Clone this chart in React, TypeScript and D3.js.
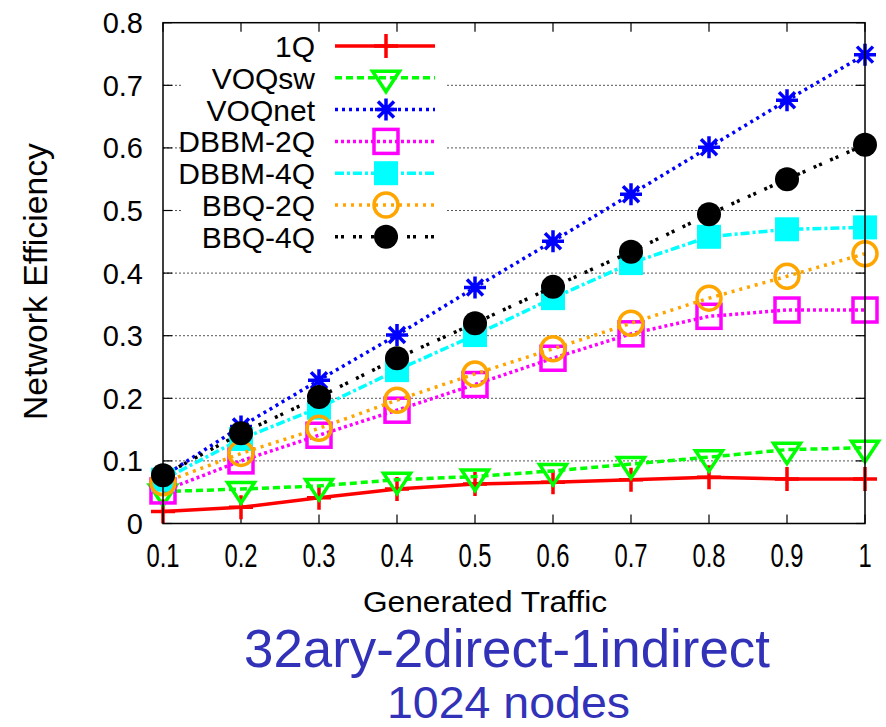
import React, { useEffect, useRef } from 'react';
import * as d3 from 'd3';

// generated traffic (x) and network efficiency per series (y)
const traffic = [0.1, 0.2, 0.3, 0.4, 0.5, 0.6, 0.7, 0.8, 0.9, 1];
const q1 = [0.019, 0.026, 0.041, 0.055, 0.063, 0.066, 0.070, 0.074, 0.071, 0.071];
const voqsw = [0.051, 0.055, 0.060, 0.070, 0.075, 0.084, 0.095, 0.106, 0.118, 0.121];
const voqnet = [0.075, 0.155, 0.229, 0.301, 0.377, 0.451, 0.526, 0.601, 0.676, 0.749];
const dbbm2q = [0.052, 0.100, 0.141, 0.181, 0.222, 0.264, 0.303, 0.331, 0.341, 0.341];
const dbbm4q = [0.070, 0.135, 0.185, 0.245, 0.301, 0.360, 0.416, 0.458, 0.470, 0.473];
const bbq2q = [0.065, 0.112, 0.152, 0.197, 0.239, 0.279, 0.320, 0.360, 0.395, 0.431];
const bbq4q = [0.077, 0.144, 0.202, 0.264, 0.320, 0.378, 0.434, 0.494, 0.550, 0.605];

const seriesNames = ['1Q', 'VOQsw', 'VOQnet', 'DBBM-2Q', 'DBBM-4Q', 'BBQ-2Q', 'BBQ-4Q'];
const xTickLabels = ['0.1', '0.2', '0.3', '0.4', '0.5', '0.6', '0.7', '0.8', '0.9', '1'];
const yTicks = [0, 0.1, 0.2, 0.3, 0.4, 0.5, 0.6, 0.7, 0.8];

const FONT = '"Liberation Sans", Arial, sans-serif';

export default function App() {
  const ref = useRef<SVGSVGElement>(null);

  useEffect(() => {
    const svg = d3.select(ref.current);
    svg.selectAll('*').remove();

    const left = 163, right = 865, top = 22.7, bottom = 523.5;
    const x = d3.scaleLinear().domain([0.1, 1]).range([left, right]);
    const y = d3.scaleLinear().domain([0, 0.8]).range([bottom, top]);

    const styles = [
      { values: q1, color: '#ff0000', dash: null, width: 3.5, marker: 'plus' },
      { values: voqsw, color: '#00ff00', dash: '7,4', width: 3.5, marker: 'tri' },
      { values: voqnet, color: '#0000ff', dash: '3,4', width: 3.5, marker: 'star' },
      { values: dbbm2q, color: '#ff00ff', dash: '3,3', width: 3.5, marker: 'square' },
      { values: dbbm4q, color: '#00ffff', dash: '9,3,3,3', width: 3.5, marker: 'fsquare' },
      { values: bbq2q, color: '#ffa500', dash: '3,5', width: 3.5, marker: 'circle' },
      { values: bbq4q, color: '#000000', dash: '3,3,3,9', width: 3.5, marker: 'fcircle' },
    ];

    function drawMarker(g: any, kind: string, cx: number, cy: number, color: string) {
      if (kind === 'plus') {
        g.append('path').attr('d', `M${cx - 12},${cy}H${cx + 12}M${cx},${cy - 12}V${cy + 12}`)
          .attr('stroke', color).attr('stroke-width', 3.5).attr('fill', 'none');
      } else if (kind === 'tri') {
        g.append('path').attr('d', `M${cx - 13.5},${cy - 6.5}L${cx + 13.5},${cy - 6.5}L${cx},${cy + 14}Z`)
          .attr('stroke', color).attr('stroke-width', 3.5).attr('fill', 'none');
      } else if (kind === 'star') {
        const r = 11, d = 8;
        g.append('path').attr('d',
          `M${cx - r},${cy}H${cx + r}M${cx},${cy - r}V${cy + r}M${cx - d},${cy - d}L${cx + d},${cy + d}M${cx - d},${cy + d}L${cx + d},${cy - d}`)
          .attr('stroke', color).attr('stroke-width', 3.5).attr('fill', 'none');
      } else if (kind === 'square') {
        g.append('rect').attr('x', cx - 12).attr('y', cy - 12).attr('width', 24).attr('height', 24)
          .attr('stroke', color).attr('stroke-width', 3.5).attr('fill', 'none');
      } else if (kind === 'fsquare') {
        g.append('rect').attr('x', cx - 12).attr('y', cy - 12).attr('width', 24).attr('height', 24)
          .attr('fill', color);
      } else if (kind === 'circle') {
        g.append('circle').attr('cx', cx).attr('cy', cy).attr('r', 12)
          .attr('stroke', color).attr('stroke-width', 3.5).attr('fill', 'none');
      } else {
        g.append('circle').attr('cx', cx).attr('cy', cy).attr('r', 12).attr('fill', color);
      }
    }

    // dotted grid lines
    svg.append('g').selectAll('line')
      .data(yTicks.slice(1, -1))
      .enter().append('line')
      .attr('x1', left).attr('x2', right)
      .attr('y1', d => y(d)).attr('y2', d => y(d))
      .attr('stroke', '#555').attr('stroke-width', 1).attr('stroke-dasharray', '2,2');

    // opaque legend background
    svg.append('rect').attr('x', 181).attr('y', 30).attr('width', 266).attr('height', 222).attr('fill', '#fff');

    // ticks on all sides
    const ticks = svg.append('g').attr('stroke', '#000').attr('stroke-width', 1.2);
    yTicks.forEach(v => {
      ticks.append('line').attr('x1', left).attr('x2', left + 9).attr('y1', y(v)).attr('y2', y(v));
      ticks.append('line').attr('x1', right - 9).attr('x2', right).attr('y1', y(v)).attr('y2', y(v));
    });
    traffic.forEach(v => {
      ticks.append('line').attr('x1', x(v)).attr('x2', x(v)).attr('y1', bottom).attr('y2', bottom - 9);
      ticks.append('line').attr('x1', x(v)).attr('x2', x(v)).attr('y1', top).attr('y2', top + 9);
    });

    // tick labels
    svg.append('g').selectAll('text')
      .data(yTicks)
      .enter().append('text')
      .attr('x', 143).attr('y', d => y(d) + 10.5)
      .attr('text-anchor', 'end')
      .attr('font-family', FONT).attr('font-size', 29)
      .text(d => d === 0 ? '0' : d3.format('.1f')(d));

    svg.append('g').selectAll('text')
      .data(traffic)
      .enter().append('text')
      .attr('transform', d => `translate(${x(d)},567) scale(0.7,1)`)
      .attr('text-anchor', 'middle')
      .attr('font-family', FONT).attr('font-size', 34)
      .text((d, i) => xTickLabels[i]);

    // series
    styles.forEach(s => {
      const g = svg.append('g');
      const line = d3.line<number>().x((d, i) => x(traffic[i])).y(d => y(d));
      g.append('path').datum(s.values).attr('d', line)
        .attr('fill', 'none').attr('stroke', s.color).attr('stroke-width', s.width)
        .attr('stroke-dasharray', s.dash);
      s.values.forEach((v, i) => drawMarker(g, s.marker, x(traffic[i]), y(v), s.color));
    });

    // legend
    const lg = svg.append('g');
    styles.forEach((s, i) => {
      const ly = 46 + i * 31.8;
      lg.append('text').attr('x', 315).attr('y', ly + 11)
        .attr('text-anchor', 'end').attr('font-family', FONT).attr('font-size', 30)
        .text(seriesNames[i]);
      lg.append('line').attr('x1', 335).attr('x2', 435).attr('y1', ly).attr('y2', ly)
        .attr('stroke', s.color).attr('stroke-width', s.width).attr('stroke-dasharray', s.dash);
      drawMarker(lg, s.marker, 386, ly, s.color);
    });

    // frame
    svg.append('rect').attr('x', left).attr('y', top).attr('width', right - left).attr('height', bottom - top)
      .attr('fill', 'none').attr('stroke', '#000').attr('stroke-width', 1.5);

    // axis titles
    svg.append('text')
      .attr('transform', 'translate(47,281.5) rotate(-90)')
      .attr('text-anchor', 'middle').attr('font-family', FONT).attr('font-size', 33)
      .attr('textLength', 277).attr('lengthAdjust', 'spacingAndGlyphs')
      .text('Network Efficiency');
    svg.append('text')
      .attr('x', 485).attr('y', 612)
      .attr('text-anchor', 'middle').attr('font-family', FONT).attr('font-size', 29)
      .attr('textLength', 244).attr('lengthAdjust', 'spacingAndGlyphs')
      .text('Generated Traffic');

    // caption
    svg.append('text')
      .attr('x', 507).attr('y', 667)
      .attr('text-anchor', 'middle').attr('font-family', FONT).attr('font-size', 53)
      .attr('fill', '#3232b9')
      .attr('textLength', 526).attr('lengthAdjust', 'spacingAndGlyphs')
      .text('32ary-2direct-1indirect');
    svg.append('text')
      .attr('x', 508.5).attr('y', 718)
      .attr('text-anchor', 'middle').attr('font-family', FONT).attr('font-size', 45)
      .attr('fill', '#3232b9')
      .attr('textLength', 243).attr('lengthAdjust', 'spacingAndGlyphs')
      .text('1024 nodes');
  }, []);

  return (
    <svg ref={ref} width={886} height={727}
      style={{ position: 'absolute', left: 0, top: 0, background: '#fff' }} />
  );
}
